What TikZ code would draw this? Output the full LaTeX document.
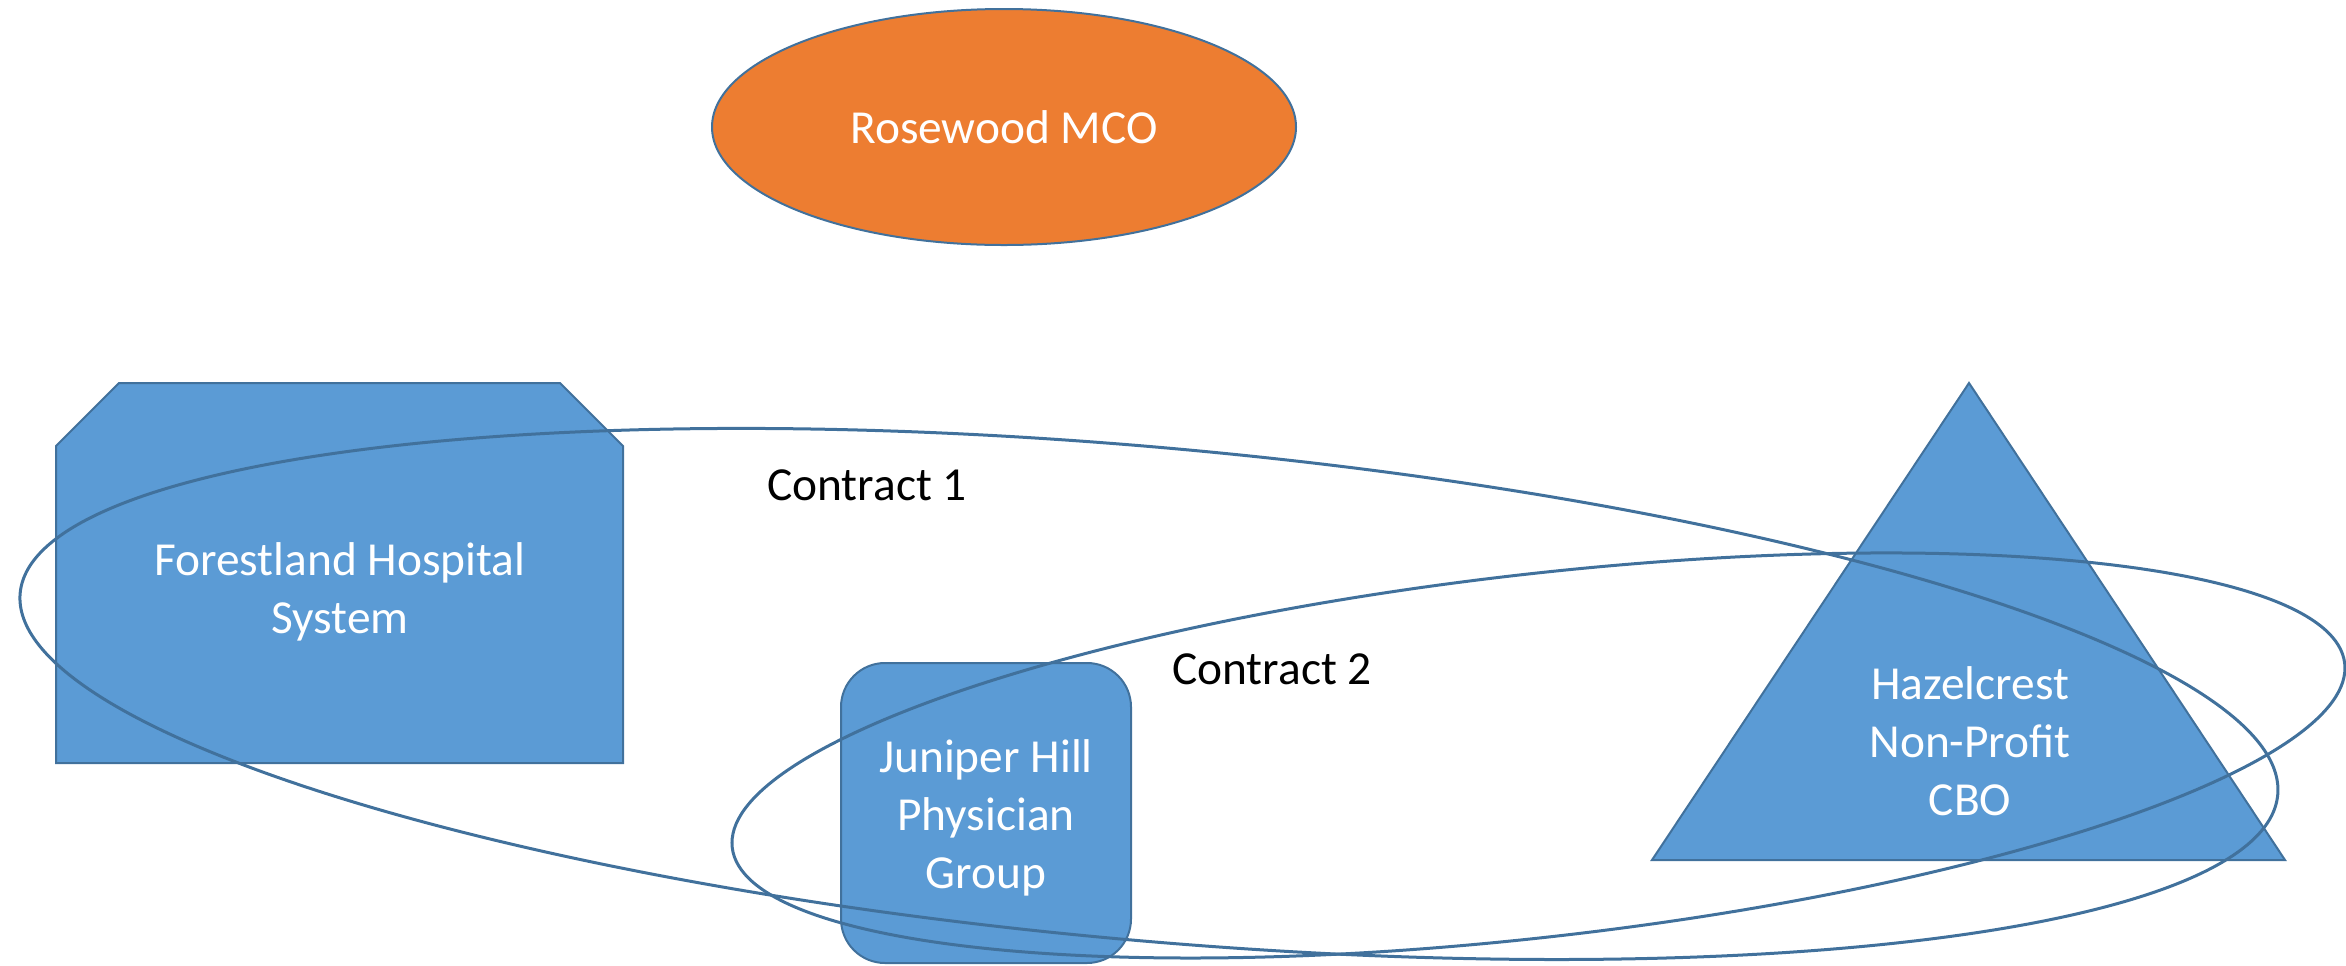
\documentclass[tikz,border=0pt]{standalone}
\usepackage{fontspec}
\setmainfont{Carlito}
\usetikzlibrary{shapes.geometric}
\definecolor{shapeblue}{HTML}{5B9BD5}
\definecolor{edgeblue}{HTML}{41719C}
\definecolor{mcoorange}{HTML}{ED7D31}
\tikzset{
  orgshape/.style={fill=shapeblue, draw=edgeblue, line width=1pt, line join=miter},
  orgtext/.style={text=white, font=\fontsize{23.7pt}{29pt}\selectfont, align=center, inner sep=0pt},
  contractline/.style={draw=edgeblue, line width=1.5pt},
  contracttext/.style={text=black, font=\fontsize{23.7pt}{29pt}\selectfont, inner sep=0pt, anchor=base}
}
\begin{document}
\begin{tikzpicture}[x=0.5pt,y=-0.5pt]
\useasboundingbox (0,0) rectangle (2346,965);
% Rosewood MCO
\node[ellipse, fill=mcoorange, draw=edgeblue, line width=1pt, minimum width=292pt, minimum height=118pt, inner sep=0pt,
      text=white, font=\fontsize{23.7pt}{29pt}\selectfont] (rose) at (1004,127) {Rosewood MCO};
% Forestland Hospital System (chamfered box)
\draw[orgshape] (56,763) -- (56,446) -- (119,383) -- (560,383) -- (623,446) -- (623,763) -- cycle;
\node[orgtext] (forest) at (340,592) {Forestland Hospital\\System};
% Juniper Hill Physician Group (rounded box)
\draw[orgshape, rounded corners=22pt] (841,663) rectangle (1131,963);
\node[orgtext] (juniper) at (986,818) {Juniper Hill\\Physician\\Group};
% Hazelcrest (triangle)
\draw[orgshape] (1969,383) -- (2285,860) -- (1652,860) -- cycle;
\node[orgtext] (hazel) at (1970,741) {Hazelcrest\\Non-Profit\\CBO};
% Contract ellipses
\coordinate (c1c) at (1149,694);
\coordinate (c2c) at (1538.5,755.5);
\draw[contractline, rotate around={-5.1:(c1c)}] (c1c) ellipse [x radius=1133.3, y radius=246.6];
\draw[contractline, rotate around={6.52:(c2c)}] (c2c) ellipse [x radius=811.5, y radius=181.5];
% Contract labels
\node[contracttext] (c1) at (867,500) {Contract 1};
\node[contracttext] (c2) at (1272,684) {Contract 2};
\end{tikzpicture}
\end{document}
